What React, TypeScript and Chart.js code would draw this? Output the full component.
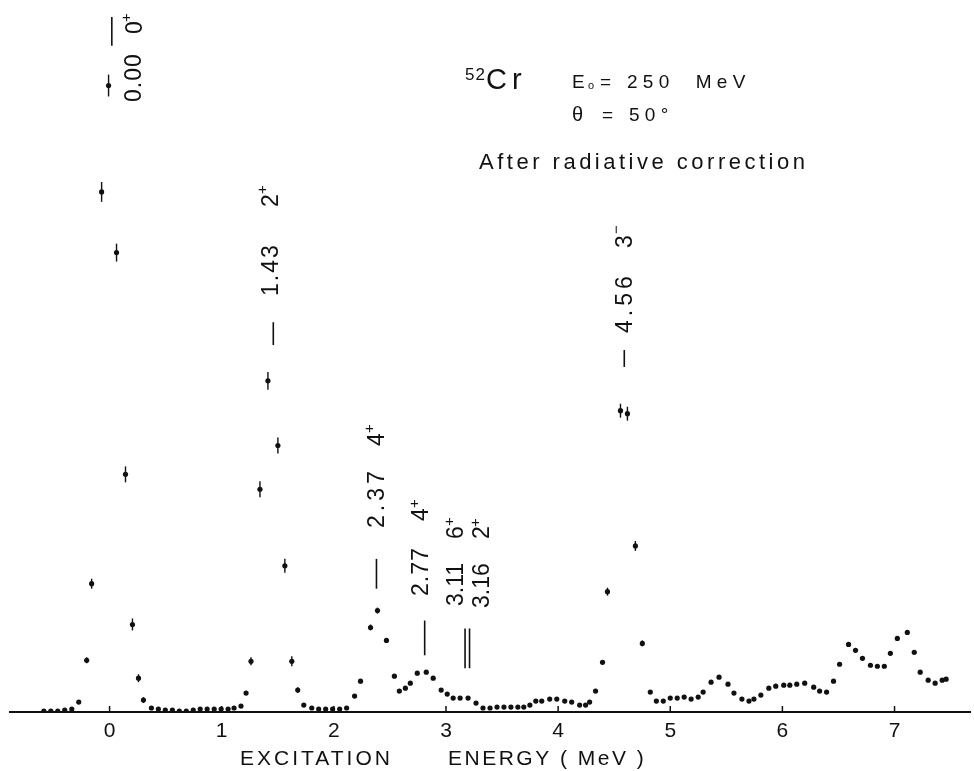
import { useEffect, useRef } from 'react';
import { Chart, registerables } from 'chart.js';

Chart.register(...registerables);

// ---- data (excitation energy in MeV, counts in arbitrary units) ----
const energies = [
  -0.586, -0.524, -0.462, -0.400, -0.337, -0.275, -0.204, -0.160, -0.071, -0.009,
  0.062, 0.142, 0.204, 0.258, 0.302, 0.373, 0.435, 0.497, 0.560, 0.622,
  0.684, 0.746, 0.808, 0.870, 0.933, 0.995, 1.057, 1.110, 1.172, 1.217,
  1.261, 1.341, 1.412, 1.501, 1.563, 1.625, 1.678, 1.732, 1.803, 1.865,
  1.927, 1.989, 2.052, 2.114, 2.185, 2.238, 2.327, 2.389, 2.469, 2.540,
  2.584, 2.638, 2.682, 2.744, 2.824, 2.886, 2.957, 3.011, 3.064, 3.126,
  3.197, 3.268, 3.330, 3.393, 3.455, 3.517, 3.579, 3.641, 3.694, 3.748,
  3.801, 3.854, 3.925, 3.988, 4.059, 4.121, 4.192, 4.245, 4.281, 4.334,
  4.396, 4.440, 4.556, 4.618, 4.689, 4.751, 4.822, 4.876, 4.938, 5.000,
  5.062, 5.124, 5.186, 5.249, 5.293, 5.364, 5.435, 5.515, 5.568, 5.639,
  5.702, 5.746, 5.808, 5.879, 5.941, 6.012, 6.066, 6.128, 6.199, 6.279,
  6.332, 6.394, 6.456, 6.510, 6.590, 6.652, 6.714, 6.785, 6.847, 6.909,
  6.963, 7.025, 7.114, 7.176, 7.229, 7.300, 7.362, 7.425, 7.460,
];
const counts = [
  1, 1, 1, 2, 3, 10, 52, 129, 523, 630,
  462, 239, 88, 34, 12, 4, 3, 2, 2, 1,
  1, 2, 3, 3, 3, 3, 3, 4, 6, 19,
  51, 224, 333, 268, 147, 51, 22, 7, 4, 3,
  3, 3, 3, 4, 16, 31, 85, 102, 72, 36,
  21, 24, 29, 39, 40, 34, 22, 18, 14, 14,
  14, 9, 4, 4, 5, 5, 5, 5, 5, 7,
  11, 11, 13, 13, 11, 10, 7, 7, 10, 21,
  50, 121, 303, 300, 167, 69, 20, 11, 11, 14,
  14, 15, 13, 15, 20, 30, 35, 28, 19, 13,
  11, 13, 17, 24, 26, 27, 27, 28, 29, 25,
  21, 20, 31, 48, 68, 62, 54, 47, 46, 46,
  59, 74, 80, 60, 40, 32, 29, 32, 33,
];
const errors = [
  0, 0, 0, 0, 0, 0, 3, 5, 10, 11,
  9, 8, 6, 4, 3, 0, 0, 0, 0, 0,
  0, 0, 0, 0, 0, 0, 0, 0, 0, 2,
  4, 8, 9, 8, 7, 5, 3, 0, 0, 0,
  0, 0, 0, 0, 1, 2, 3, 3, 2, 1,
  0, 0, 0, 1, 1, 1, 0, 0, 0, 0,
  0, 0, 0, 0, 0, 0, 0, 0, 0, 0,
  0, 0, 0, 0, 0, 0, 0, 0, 0, 1,
  2, 4, 7, 7, 5, 3, 1, 0, 0, 0,
  0, 0, 0, 0, 0, 1, 1, 1, 0, 0,
  0, 0, 0, 1, 1, 1, 1, 1, 1, 1,
  0, 0, 1, 1, 2, 2, 1, 1, 1, 1,
  1, 2, 2, 1, 1, 1, 1, 1, 1,
];
const tickValues = [0, 1, 2, 3, 4, 5, 6, 7];
const xAxisTitle = ['EXCITATION', 'ENERGY ( MeV )'];

// level markers: energy where the marker line is drawn, and its extent in count units
const markerEnergies = [0.02, 1.46, 2.38, 2.81, 3.17, 3.21, 4.59];
const markerLow = [670, 369, 124, 57, 44, 44, 347];
const markerHigh = [699, 392, 154, 92, 84, 84, 364];

// ---- layout / style (not data) ----
const FONT = '"Liberation Sans", Arial, sans-serif';
const X_MIN = -0.888;
const X_MAX = 7.673;
const Y_MAX = 712;

type Piece = { t: string; x: number; yb: number; size: number; ls: number };
const levelLabels: Piece[] = [
  { t: '0.00', x: 135, yb: 102, size: 23, ls: 1 },
  { t: '0', x: 136, yb: 34, size: 23, ls: 0 },
  { t: '+', x: 127, yb: 22, size: 15, ls: 0 },
  { t: '1.43', x: 272, yb: 296, size: 23, ls: 2 },
  { t: '2', x: 272, yb: 207, size: 23, ls: 0 },
  { t: '+', x: 263, yb: 194, size: 15, ls: 0 },
  { t: '2.37', x: 378, yb: 528, size: 23, ls: 4 },
  { t: '4', x: 378, yb: 446, size: 23, ls: 0 },
  { t: '+', x: 370, yb: 433, size: 15, ls: 0 },
  { t: '2.77', x: 422, yb: 596, size: 23, ls: 1 },
  { t: '4', x: 422, yb: 521, size: 23, ls: 0 },
  { t: '+', x: 415, yb: 508, size: 15, ls: 0 },
  { t: '3.11', x: 457, yb: 606, size: 23, ls: 0 },
  { t: '6', x: 457, yb: 539, size: 23, ls: 0 },
  { t: '+', x: 450, yb: 526, size: 15, ls: 0 },
  { t: '3.16', x: 483, yb: 608, size: 23, ls: 0 },
  { t: '2', x: 483, yb: 539, size: 23, ls: 0 },
  { t: '+', x: 476, yb: 527, size: 15, ls: 0 },
  { t: '4.56', x: 626, yb: 333, size: 23, ls: 4 },
  { t: '3', x: 626, yb: 248, size: 23, ls: 0 },
  { t: '\u2212', x: 617, yb: 234, size: 15, ls: 0 },
];

type HText = { t: string; x: number; y: number; size: number; ls: number };
const headerTexts: HText[] = [
  { t: '52', x: 465, y: 80, size: 17, ls: 1 },
  { t: 'Cr', x: 486, y: 89, size: 29, ls: 5 },
  { t: 'E', x: 572, y: 88, size: 19, ls: 0 },
  { t: 'o', x: 588, y: 89, size: 11, ls: 0 },
  { t: '= 250  MeV', x: 600, y: 88, size: 19, ls: 5.3 },
  { t: '\u03b8', x: 572, y: 121, size: 20, ls: 0 },
  { t: '= 50\u00b0', x: 602, y: 121, size: 19, ls: 5.3 },
  { t: 'After radiative correction', x: 479, y: 169, size: 22, ls: 3.5 },
  { t: xAxisTitle[0], x: 240, y: 765, size: 21, ls: 3 },
  { t: xAxisTitle[1], x: 448, y: 765, size: 21, ls: 2.5 },
];

const decorPlugin = {
  id: 'decor',
  beforeDraw(chart: any) {
    const { ctx } = chart;
    ctx.save();
    ctx.fillStyle = '#ffffff';
    ctx.fillRect(0, 0, chart.width, chart.height);
    ctx.restore();
  },
  afterDatasetsDraw(chart: any) {
    const { ctx } = chart;
    const xs = chart.scales.x;
    const ys = chart.scales.y;
    ctx.save();
    ctx.strokeStyle = '#111';
    ctx.lineWidth = 1.4;
    // error bars
    energies.forEach((e, i) => {
      const err = errors[i];
      if (!err) return;
      const px = xs.getPixelForValue(e);
      ctx.beginPath();
      ctx.moveTo(px, ys.getPixelForValue(counts[i] - err));
      ctx.lineTo(px, ys.getPixelForValue(counts[i] + err));
      ctx.stroke();
    });
    // level marker lines
    ctx.lineWidth = 1.6;
    markerEnergies.forEach((e, i) => {
      const px = xs.getPixelForValue(e);
      ctx.beginPath();
      ctx.moveTo(px, ys.getPixelForValue(markerLow[i]));
      ctx.lineTo(px, ys.getPixelForValue(markerHigh[i]));
      ctx.stroke();
    });
    // tick marks pointing up into the plot
    ctx.lineWidth = 1.5;
    const base = ys.getPixelForValue(0);
    tickValues.forEach((v) => {
      const px = xs.getPixelForValue(v);
      ctx.beginPath();
      ctx.moveTo(px, base);
      ctx.lineTo(px, base - 6);
      ctx.stroke();
    });
    // rotated level labels
    ctx.fillStyle = '#111';
    levelLabels.forEach((p) => {
      ctx.save();
      ctx.translate(p.x, p.yb);
      ctx.rotate(-Math.PI / 2);
      ctx.font = `${p.size}px ${FONT}`;
      (ctx as any).letterSpacing = `${p.ls}px`;
      ctx.textAlign = 'left';
      ctx.textBaseline = 'middle';
      ctx.fillText(p.t, 0, 0);
      ctx.restore();
    });
    // horizontal texts
    headerTexts.forEach((h) => {
      ctx.save();
      ctx.font = `${h.size}px ${FONT}`;
      (ctx as any).letterSpacing = `${h.ls}px`;
      ctx.textAlign = 'left';
      ctx.textBaseline = 'alphabetic';
      ctx.fillText(h.t, h.x, h.y);
      ctx.restore();
    });
    ctx.restore();
  },
};

export default function App() {
  const ref = useRef<HTMLCanvasElement | null>(null);
  useEffect(() => {
    if (!ref.current) return;
    const chart = new Chart(ref.current, {
      type: 'scatter',
      data: {
        datasets: [
          {
            data: energies.map((e, i) => ({ x: e, y: counts[i] })),
            pointRadius: 2.6,
            pointBackgroundColor: '#111',
            pointBorderWidth: 0,
            showLine: false,
          },
        ],
      },
      options: {
        responsive: false,
        devicePixelRatio: 1,
        animation: false,
        events: [],
        layout: { padding: { left: 10, right: 0, top: 0, bottom: 0 } },
        plugins: { legend: { display: false }, tooltip: { enabled: false } },
        scales: {
          x: {
            type: 'linear',
            min: X_MIN,
            max: X_MAX,
            afterBuildTicks: (scale: any) => {
              scale.ticks = tickValues.map((v) => ({ value: v }));
            },
            afterFit: (scale: any) => {
              scale.height = 59;
            },
            grid: { display: true, drawOnChartArea: false, drawTicks: false },
            border: { display: true, color: '#111', width: 2 },
            ticks: {
              autoSkip: false,
              maxRotation: 0,
              padding: 7,
              color: '#111',
              font: { family: FONT, size: 21 },
              callback: (v: any) => String(v),
            },
            title: { display: false },
          },
          y: {
            display: false,
            min: 0,
            max: Y_MAX,
          },
        },
      },
      plugins: [decorPlugin],
    } as any);
    return () => chart.destroy();
  }, []);
  return (
    <div style={{ position: 'absolute', left: 0, top: 0, width: 974, height: 771 }}>
      <canvas ref={ref} width={974} height={771} style={{ width: 974, height: 771 }} />
    </div>
  );
}
